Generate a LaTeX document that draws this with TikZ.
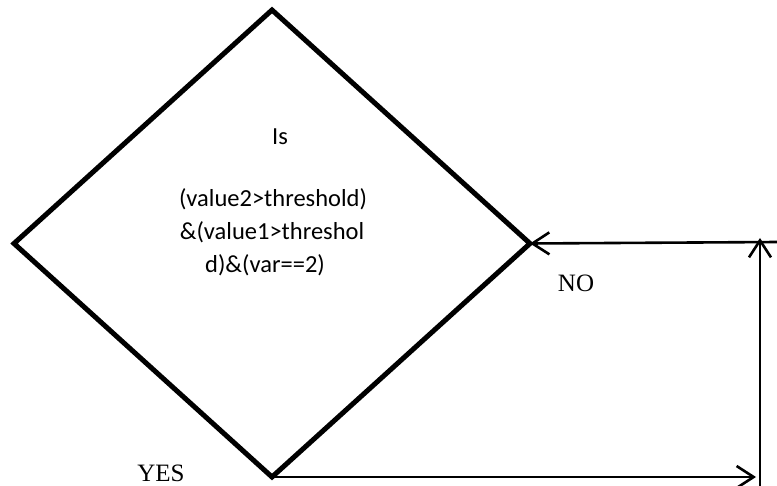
\documentclass[tikz,border=0pt]{standalone}
\usepackage{fontspec}
\setmainfont{Liberation Serif}
\newfontfamily\calib{Carlito}
\usetikzlibrary{shapes.geometric,arrows.meta}
\tikzset{
  decision/.style={shape=diamond,draw,line width=5pt,minimum width=516pt,minimum height=467pt,inner sep=0pt,outer sep=0pt},
  qtext/.style={anchor=base,inner sep=0pt,font=\calib\fontsize{24.5}{29}\selectfont},
  lbl/.style={anchor=base,inner sep=0pt,font=\fontsize{25}{29}\selectfont},
  conn/.style={line width=2.6pt,-{Straight Barb[length=17pt,width=22pt,line width=2.6pt]}}
}
\begin{document}
\begin{tikzpicture}[x=1pt,y=-1pt]
\useasboundingbox (0,0) rectangle (777,486);
\node[decision] (d) at (272,243.5) {};
\node[qtext] (t0) at (280,145) {Is};
\node[qtext] (t1) at (273,207) {(value2>threshold)};
\node[qtext] (t2) at (272,240) {\&(value1>threshol};
\node[qtext] (t3) at (265,273) {d)\&(var==2)};
\node[lbl] (no) at (576,292) {NO};
\node[lbl] (yes) at (161,482) {YES};
\coordinate (bend) at (756,477);
\coordinate (vbot) at (760,487);
\coordinate (vtop) at (760,238);
\coordinate (hr) at (778,242);
\draw[conn] (d.south) -- (bend);
\draw[conn] (vbot) -- (vtop);
\draw[conn] (hr) -- (d.east);
\end{tikzpicture}
\end{document}
